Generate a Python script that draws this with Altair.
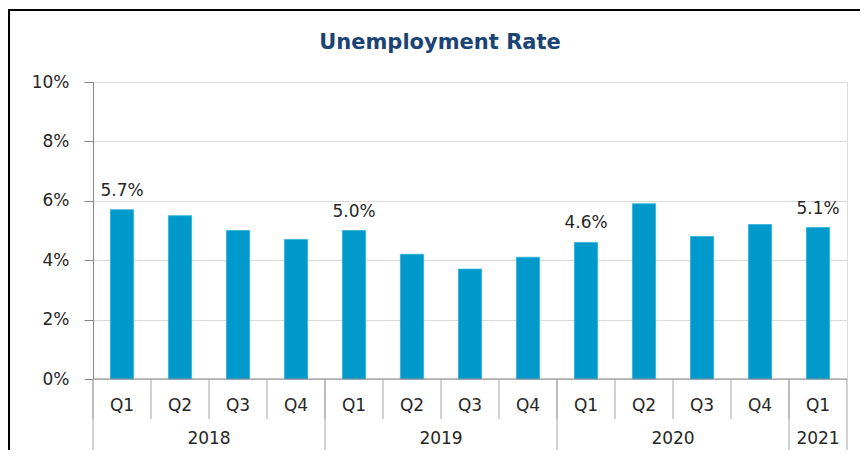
import altair as alt
import pandas as pd

# ---- data ----
title_text = ["Unemployment Rate"]
years = ["2018", "2018", "2018", "2018", "2019", "2019", "2019", "2019",
         "2020", "2020", "2020", "2020", "2021"]
quarters = ["Q1", "Q2", "Q3", "Q4", "Q1", "Q2", "Q3", "Q4",
            "Q1", "Q2", "Q3", "Q4", "Q1"]
rates = [5.7, 5.5, 5.0, 4.7, 5.0, 4.2, 3.7, 4.1, 4.6, 5.9, 4.8, 5.2, 5.1]
show_label = [True, False, False, False, True, False, False, False,
              True, False, False, False, True]
year_names = ["2018", "2019", "2020", "2021"]
y_ticks = [0, 0.02, 0.04, 0.06, 0.08, 0.10]

keys = [f"{y} {q}" for y, q in zip(years, quarters)]
df = pd.DataFrame({
    "key": keys,
    "year": years,
    "quarter": quarters,
    "rate": [r / 100 for r in rates],
    "show": show_label,
})
lab = df[df["show"]]

# first quarter of each year (group boundaries)
first_keys = [keys[years.index(y)] for y in year_names]
year_start = pd.DataFrame({"key": first_keys})
# year label anchors: middle of each group
mid_multi = pd.DataFrame({"key": ["2018 Q3", "2019 Q3", "2020 Q3"],
                          "year": ["2018", "2019", "2020"]})
mid_single = pd.DataFrame({"key": ["2021 Q1"], "year": ["2021"]})
last_key = pd.DataFrame({"key": [keys[-1]]})
title_df = pd.DataFrame({"t": title_text})

W, H = 754, 297
FONT = "DejaVu Sans"
TXT = "#262626"
GRAY = "#A6A6A6"
BAR = "#0099CC"

xscale = alt.Scale(domain=keys, paddingInner=0, paddingOuter=0)

def X(bp=None):
    if bp is None:
        return alt.X("key:N", scale=xscale, axis=None)
    return alt.X("key:N", scale=xscale, axis=None, bandPosition=bp)

bars = alt.Chart(df).mark_bar(
    color=BAR, width=alt.RelativeBandSize(0.4), stroke="#33B0DC", strokeWidth=0.8
).encode(
    x=X(),
    y=alt.Y("rate:Q", scale=alt.Scale(domain=[0, 0.10]),
            axis=alt.Axis(values=y_ticks, format=".0%", title=None,
                          grid=True, gridColor="#D9D9D9", gridWidth=1,
                          domainColor="#868686", tickColor="#868686",
                          tickSize=9, labelPadding=15, labelFont=FONT,
                          labelFontSize=17, labelColor=TXT)),
)

# x axis baseline
xline = alt.Chart(last_key).mark_rule(color="#868686", strokeWidth=1).encode(
    x=alt.value(0), x2=alt.value(W), y=alt.value(H))

vals = alt.Chart(lab).mark_text(
    font=FONT, fontSize=17, color=TXT, baseline="alphabetic", dy=-14
).encode(x=X(), y="rate:Q", text=alt.Text("rate:Q", format=".1%"))

q_rules = alt.Chart(df).mark_rule(color=GRAY, strokeWidth=1).encode(
    x=X(0), y=alt.value(H), y2=alt.value(H + 40))

y_rules = alt.Chart(year_start).mark_rule(color=GRAY, strokeWidth=1).encode(
    x=X(0), y=alt.value(H), y2=alt.value(H + 71))

end_rule = alt.Chart(last_key).mark_rule(color=GRAY, strokeWidth=1).encode(
    x=X(1), y=alt.value(H), y2=alt.value(H + 71))

q_text = alt.Chart(df).mark_text(
    font=FONT, fontSize=17, color=TXT, baseline="middle"
).encode(x=X(), y=alt.value(H + 27), text="quarter:N")

yr_text1 = alt.Chart(mid_multi).mark_text(
    font=FONT, fontSize=17, color=TXT, baseline="alphabetic"
).encode(x=X(0), y=alt.value(H + 65), text="year:N")

yr_text2 = alt.Chart(mid_single).mark_text(
    font=FONT, fontSize=17, color=TXT, baseline="alphabetic"
).encode(x=X(0.5), y=alt.value(H + 65), text="year:N")

title = alt.Chart(title_df).mark_text(
    font=FONT, fontSize=21, fontWeight="bold", color="#1B4374",
    baseline="alphabetic", align="center"
).encode(x=alt.value(347), y=alt.value(-33), text="t:N")

# chart frame (top and left border of the original box)
frame_top = alt.Chart(last_key).mark_rule(color="#000000", strokeWidth=2).encode(
    x=alt.value(-85), x2=alt.value(W + 13), y=alt.value(-72))
frame_left = alt.Chart(last_key).mark_rule(color="#000000", strokeWidth=2).encode(
    x=alt.value(-84), y=alt.value(-73), y2=alt.value(H + 71))

chart = alt.layer(
    bars, xline, vals, q_rules, y_rules, end_rule, q_text, yr_text1, yr_text2,
    title, frame_top, frame_left
).properties(
    width=W, height=H,
    autosize=alt.AutoSizeParams(type="none"),
    padding={"left": 85, "top": 74, "right": 13, "bottom": 71},
).configure_view(stroke=None).configure(background="#FFFFFF")

chart.save("out.html", embed_options={"renderer": "svg", "actions": False})
